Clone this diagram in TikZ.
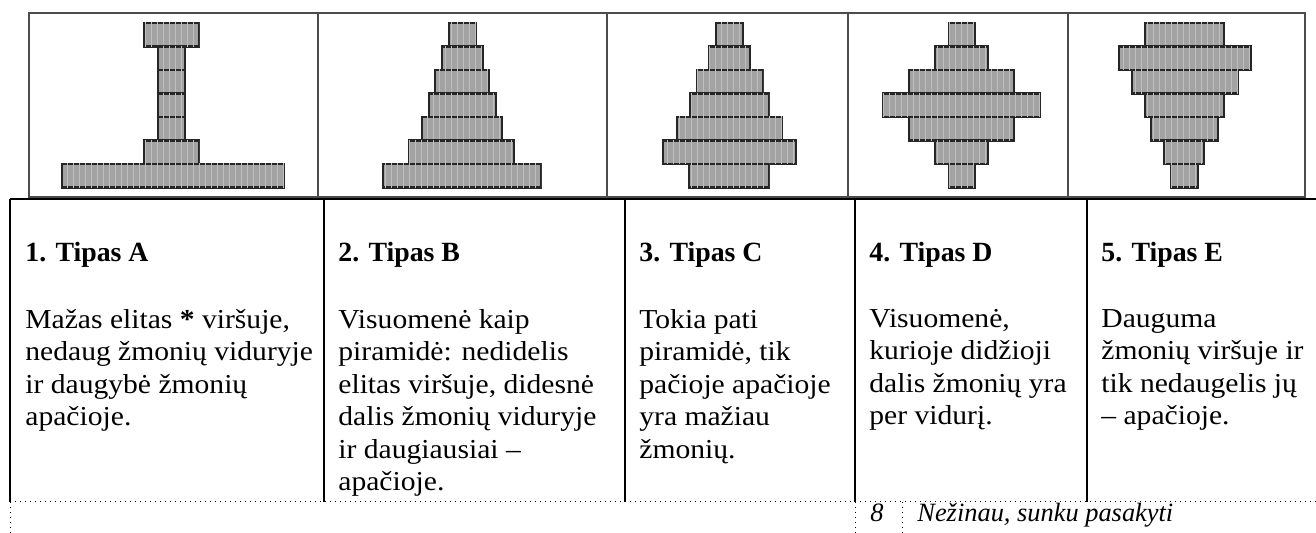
\documentclass[tikz,border=0pt]{standalone}
\usepackage{fontspec}
\setmainfont[FakeStretch=1.08]{Liberation Serif}
\newfontfamily\plainserif{Liberation Serif}
\usepackage{tikz}
\usetikzlibrary{patterns}

\tikzset{
  bar/.style={draw=black!85, line width=1.1pt, fill=black!36,
    postaction={pattern=vertical lines, pattern color=black!25}},
  frame/.style={draw=black!70, line width=0.75pt},
  rule/.style={draw=black, line width=1pt},
  dotrule/.style={draw=black, line width=0.5pt, dotted},
  head/.style={anchor=base west, inner sep=0pt, font=\fontsize{13.9}{16.2}\selectfont\plainserif\bfseries},
  body/.style={anchor=north west, inner sep=0pt, align=left, font=\fontsize{13.7}{16.2}\selectfont},
  answer/.style={anchor=base west, inner sep=0pt, font=\fontsize{13.2}{16.2}\selectfont\plainserif\itshape}
}

\begin{document}
\begin{tikzpicture}[x=0.5pt,y=-0.5pt]
	\useasboundingbox (0,0) rectangle (1316,533);
	% pictures of the five types
	\draw[frame] (29,13) rectangle (1305,197);
	\draw[frame] (318,13) -- (318,197);
	\draw[frame] (607,13) -- (607,197);
	\draw[frame] (848,13) -- (848,197);
	\draw[frame] (1068,13) -- (1068,197);
	\foreach \l/\r [count=\i] in {144/199,158/185,158/185,158/185,158/185,144/199,62/284}
		\draw[bar] (\l,{23+23.5*(\i-1)}) rectangle (\r,{23+23.5*\i});
	\foreach \l/\r [count=\i] in {449/476,442/483,435/489,429/496,422/502,409/514,383/541}
		\draw[bar] (\l,{23+23.5*(\i-1)}) rectangle (\r,{23+23.5*\i});
	\foreach \l/\r [count=\i] in {716/743,709/750,697/763,690/769,677/782,663/796,689/769}
		\draw[bar] (\l,{23+23.5*(\i-1)}) rectangle (\r,{23+23.5*\i});
	\foreach \l/\r [count=\i] in {949/975,935/988,909/1014,883/1040,909/1014,935/988,949/975}
		\draw[bar] (\l,{23+23.5*(\i-1)}) rectangle (\r,{23+23.5*\i});
	\foreach \l/\r [count=\i] in {1145/1224,1119/1251,1132/1238,1145/1224,1151/1218,1164/1204,1171/1198}
		\draw[bar] (\l,{23+23.5*(\i-1)}) rectangle (\r,{23+23.5*\i});
	% table
	\draw[rule] (10,199) -- (1316,199);
	\draw[rule] (10,199) -- (10,502);
	\draw[rule] (324,199) -- (324,502);
	\draw[rule] (625,199) -- (625,502);
	\draw[rule] (855,199) -- (855,502);
	\draw[rule] (1087,199) -- (1087,502);
	\draw[dotrule] (10,502) -- (1316,502);
	\draw[dotrule] (10,502) -- (10,533);
	\draw[dotrule] (855,502) -- (855,533);
	\draw[dotrule] (902,502) -- (902,533);
	% headings
	\node[head] (hA) at (25,262) {1. Tipas A};
	\node[head] (hB) at (338,262) {2. Tipas B};
	\node[head] (hC) at (639,262) {3. Tipas C};
	\node[head] (hD) at (869,262) {4. Tipas D};
	\node[head] (hE) at (1101,262) {5. Tipas E};
	% descriptions
	\node[body] (tA) at (25,309) {Mažas elitas \textbf{*} viršuje,\\nedaug žmonių viduryje\\ir daugybė žmonių\\apačioje.};
	\node[body] (tB) at (338,309) {Visuomenė kaip\\piramidė: nedidelis\\elitas viršuje, didesnė\\dalis žmonių viduryje\\ir daugiausiai –\\apačioje.};
	\node[body] (tC) at (639,309) {Tokia pati\\piramidė, tik\\pačioje apačioje\\yra mažiau\\žmonių.};
	\node[body] (tD) at (869,309) {Visuomenė,\\kurioje didžioji\\dalis žmonių yra\\per vidurį.};
	\node[body] (tE) at (1101,309) {Dauguma\\žmonių viršuje ir\\tik nedaugelis jų\\– apačioje.};
	% answer row
	\node[answer] (n8) at (870,522) {8};
	\node[answer] (nNezinau) at (917,522) {Nežinau, sunku pasakyti};
\end{tikzpicture}
\end{document}
